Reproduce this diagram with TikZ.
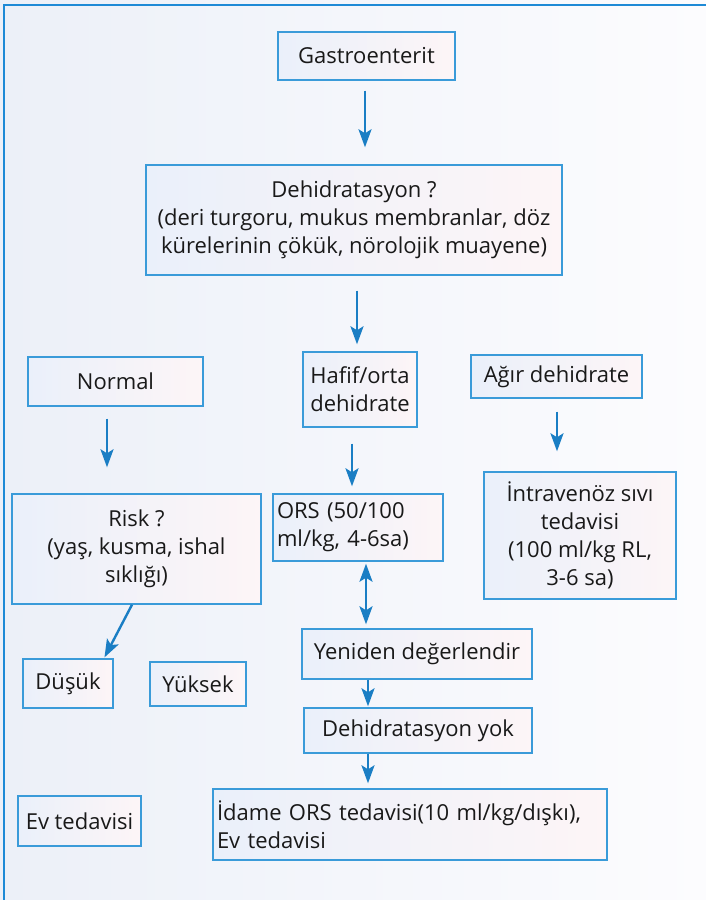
\documentclass[tikz,border=0pt]{standalone}
\usepackage{fontspec}
\setmainfont{Open Sans}
\usetikzlibrary{arrows.meta}
\definecolor{bgL}{RGB}{236,240,248}
\definecolor{bgR}{RGB}{252,252,254}
\definecolor{boxL}{RGB}{234,240,250}
\definecolor{boxR}{RGB}{253,245,247}
\definecolor{boxline}{RGB}{58,155,217}
\definecolor{arrowc}{RGB}{26,126,196}
\definecolor{framec}{RGB}{30,138,214}
\definecolor{txt}{RGB}{25,25,25}
\tikzset{
  fbox/.style={draw=boxline, line width=1.4pt, left color=boxL, right color=boxR,
    inner sep=0pt, text=txt, align=center,
    font=\fontsize{22}{28}\selectfont},
  lbox/.style={fbox, align=left, inner xsep=4pt},
  arr/.style={draw=arrowc, line width=2.4pt, -{Stealth[length=18pt,width=13pt,inset=4pt]}},
  darr/.style={draw=arrowc, line width=2.4pt, {Stealth[length=18pt,width=13pt,inset=4pt]}-{Stealth[length=18pt,width=13pt,inset=4pt]}}
}
\begin{document}
\begin{tikzpicture}[x=1pt,y=-1pt]
\useasboundingbox (0,0) rectangle (706,900);
\fill[left color=bgL, right color=bgR] (0,0) rectangle (706,900);
\draw[framec, line width=2pt] (4,900) -- (4,5) -- (706,5);

\node[fbox, minimum width=177pt, minimum height=48pt] (g) at (366.5,56) {Gastroenterit};
\node[fbox, minimum width=416pt, minimum height=110pt] (d) at (354,220)
  {Dehidratasyon ?\\(deri turgoru, mukus membranlar, döz\\kürelerinin çökük, nörolojik muayene)};
\node[fbox, minimum width=175pt, minimum height=49pt] (n) at (115.5,381.5) {Normal};
\node[fbox, minimum width=114pt, minimum height=75pt] (h) at (360,389.5) {Hafif/orta\\dehidrate};
\node[fbox, minimum width=171pt, minimum height=43pt] (a) at (556.5,376.5) {Ağır dehidrate};
\node[fbox, minimum width=249pt, minimum height=110pt] (r) at (136.5,549) {Risk ?\\(yaş, kusma, ishal\\sıklığı)};
\node[lbox, text width=162pt, minimum height=67pt] (o) at (358,527.5) {ORS (50/100\\ml/kg, 4-6sa)};
\node[fbox, minimum width=192pt, minimum height=127pt] (iv) at (580,535.5) {İntravenöz sıvı\\tedavisi\\(100 ml/kg RL,\\3-6 sa)};
\node[fbox, minimum width=90pt, minimum height=49pt] (du) at (68,683.5) {Düşük};
\node[fbox, minimum width=96pt, minimum height=44pt] (yu) at (198,684) {Yüksek};
\node[fbox, minimum width=230pt, minimum height=50pt] (ye) at (417,654) {Yeniden değerlendir};
\node[fbox, minimum width=228pt, minimum height=45pt] (yo) at (418,730.5) {Dehidratasyon yok};
\node[fbox, minimum width=123pt, minimum height=50pt] (ev) at (79.5,821) {Ev tedavisi};
\node[lbox, text width=386pt, minimum height=71pt] (id) at (410,824.5) {İdame ORS tedavisi(10 ml/kg/dışkı),\\Ev tedavisi};

\coordinate (x1) at (365,0);
\coordinate (x2) at (357,0);
\coordinate (x3) at (107,0);
\coordinate (x4) at (352,0);
\coordinate (x5) at (557,0);
\coordinate (x6) at (366,0);
\coordinate (x7) at (132,0);
\coordinate (x8) at (104,0);
\coordinate (x9) at (368,0);

\draw[arr, shorten <=10pt, shorten >=17pt] (g.south -| x1) -- (d.north -| x1);
\draw[arr, shorten <=15pt, shorten >=7pt] (d.south -| x2) -- (h.north -| x2);
\draw[arr, shorten <=12pt, shorten >=26pt] (n.south -| x3) -- (r.north -| x3);
\draw[arr, shorten <=16pt, shorten >=7pt] (h.south -| x4) -- (o.north -| x4);
\draw[arr, shorten <=13pt, shorten >=20pt] (a.south -| x5) -- (iv.north -| x5);
\draw[darr, shorten <=2pt, shorten >=4pt] (o.south -| x6) -- (ye.north -| x6);
\draw[arr, shorten >=1pt] (r.south -| x7) -- (du.north -| x8);
\draw[arr, shorten >=1pt] (ye.south -| x9) -- (yo.north -| x9);
\draw[arr, shorten >=5pt] (yo.south -| x9) -- (id.north -| x9);
\end{tikzpicture}
\end{document}
